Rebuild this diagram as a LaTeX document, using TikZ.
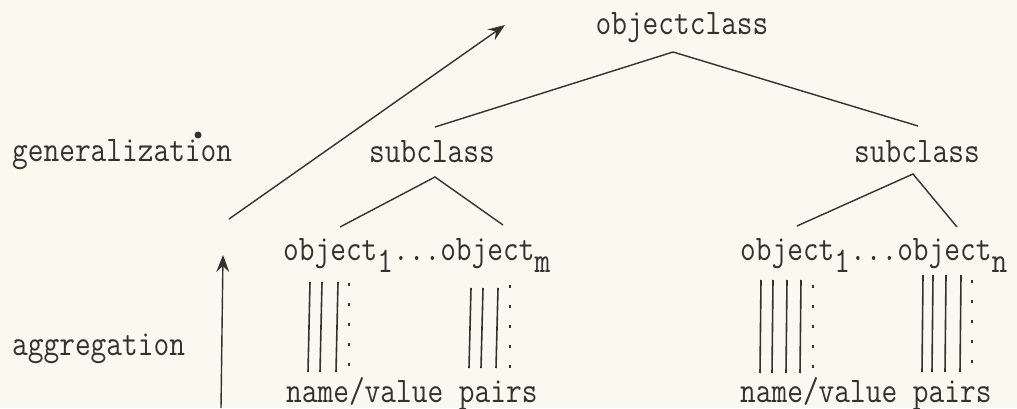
\documentclass[tikz,border=0pt]{standalone}
\usepackage{graphicx}
\usetikzlibrary{arrows.meta}
\definecolor{paper}{RGB}{249,249,240}
\definecolor{ink}{RGB}{50,50,50}
\newcommand{\tw}[1]{\scalebox{1}[1.18]{#1}}
\newcommand{\sub}[1]{\raisebox{-11pt}{#1}}
\tikzset{
  lbl/.style={inner sep=0pt, anchor=base west, text=ink,
    font=\ttfamily\fontsize{30.5pt}{32pt}\selectfont},
  edge/.style={draw=ink, line width=1.4pt},
  garrow/.style={edge, -{Stealth[length=17pt,width=13pt,inset=6pt]}},
  pair/.style={draw=ink, line width=1.6pt},
  pairdash/.style={draw=ink, line width=1.4pt, dash pattern=on 3pt off 17pt}
}
\begin{document}
\begin{tikzpicture}[x=1pt,y=1pt]
\fill[paper] (0,0) rectangle (1017,408);
\useasboundingbox (0,0) rectangle (1017,408);

% labels
\node[lbl] (gen) at (12,247) {\tw{generalization}};
\node[lbl] (agg) at (12,53) {\tw{aggregation}};
\node[lbl, anchor=base] (oc) at (682,373) {\tw{objectclass}};
\node[lbl, anchor=base] (scl) at (432,246) {\tw{subclass}};
\node[lbl, anchor=base] (scr) at (917,246) {\tw{subclass}};
\node[lbl] (objl) at (283,148) {\tw{object\sub{1}...object\sub{m}}};
\node[lbl] (objr) at (740,148) {\tw{object\sub{1}...object\sub{n}}};
\node[lbl] (nvl) at (286,6) {\tw{name/value pairs}};
\node[lbl] (nvr) at (740,6) {\tw{name/value pairs}};

% stray dot
\fill[ink] (198,273) circle (3.5pt);

% tree coordinates
\coordinate (ocA) at (673,356);
\coordinate (ocL) at (435,281);
\coordinate (ocR) at (918,282);
\coordinate (slA) at (435,231);
\coordinate (slL) at (340,181);
\coordinate (slR) at (503,183);
\coordinate (srA) at (913,234);
\coordinate (srL) at (797,182);
\coordinate (srR) at (957,181);
\draw[edge] (ocL) -- (ocA) -- (ocR);
\draw[edge] (slL) -- (slA) -- (slR);
\draw[edge] (srL) -- (srA) -- (srR);

% arrows
\coordinate (g0) at (229,189);
\coordinate (g1) at (505,383);
\draw[garrow] (g0) -- (g1);
\coordinate (a0) at (221,0);
\coordinate (a1) at (223,153);
\draw[garrow] (a0) -- (a1);

% name/value pair strokes
\foreach \xt/\xb in {310/308, 322/320, 338/336}
  \draw[pair] (\xt,126) -- (\xb,36);
\draw[pairdash] (349,125) -- (349,36);
\foreach \xt/\xb in {471/469, 483/481, 498/496}
  \draw[pair] (\xt,120) -- (\xb,40);
\draw[pairdash] (510,123) -- (510,40);
\foreach \xt/\xb in {761/760, 773/772, 787/786, 801/800}
  \draw[pair] (\xt,128) -- (\xb,35);
\draw[pairdash] (813,123) -- (813,35);
\foreach \xt/\xb in {923/922, 933/932, 946/945, 961/960}
  \draw[pair] (\xt,133) -- (\xb,36);
\draw[pairdash] (972,128) -- (972,36);
\end{tikzpicture}
\end{document}
